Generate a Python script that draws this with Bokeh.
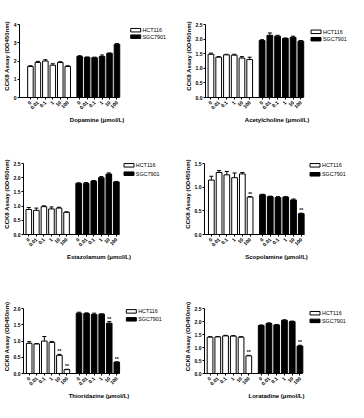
import math
from bokeh.plotting import figure
from bokeh.models import (ColumnDataSource, FixedTicker, Whisker, TeeHead,
                          NumeralTickFormatter, Range1d)
from bokeh.layouts import row, column
from bokeh.embed import file_html
from bokeh.resources import INLINE
from bokeh.core.properties import value

# ---------------- data ----------------
concentrations = ["0", "0.01", "0.1", "1", "10", "100"]
series_names = ["HCT116", "SGC7901"]
drugs = ["Dopamine", "Acetylcholine", "Estazolamum", "Scopolamine", "Thioridazine", "Loratadine"]

dopamine_hct = [1.70, 1.92, 2.00, 1.77, 1.92, 1.70]
dopamine_hct_err = [0.04, 0.06, 0.07, 0.08, 0.04, 0.04]
dopamine_sgc = [2.25, 2.20, 2.18, 2.25, 2.42, 2.92]
dopamine_sgc_err = [0.04, 0.02, 0.03, 0.08, 0.02, 0.03]

acetylcholine_hct = [1.48, 1.38, 1.46, 1.45, 1.35, 1.30]
acetylcholine_hct_err = [0.04, 0.02, 0.02, 0.03, 0.05, 0.08]
acetylcholine_sgc = [1.95, 2.13, 2.10, 2.02, 2.06, 1.93]
acetylcholine_sgc_err = [0.03, 0.08, 0.03, 0.02, 0.04, 0.02]

estazolamum_hct = [0.88, 0.85, 0.98, 0.90, 0.93, 0.78]
estazolamum_hct_err = [0.07, 0.08, 0.03, 0.07, 0.03, 0.02]
estazolamum_sgc = [1.80, 1.80, 1.88, 2.00, 2.13, 1.85]
estazolamum_sgc_err = [0.02, 0.03, 0.02, 0.04, 0.04, 0.02]

scopolamine_hct = [1.15, 1.31, 1.26, 1.20, 1.28, 0.79]
scopolamine_hct_err = [0.08, 0.04, 0.07, 0.10, 0.03, 0.01]
scopolamine_sgc = [0.84, 0.80, 0.78, 0.79, 0.73, 0.44]
scopolamine_sgc_err = [0.01, 0.01, 0.02, 0.01, 0.02, 0.01]

thioridazine_hct = [0.93, 0.91, 1.00, 0.96, 0.56, 0.12]
thioridazine_hct_err = [0.05, 0.01, 0.14, 0.03, 0.03, 0.01]
thioridazine_sgc = [1.86, 1.85, 1.82, 1.83, 1.55, 0.35]
thioridazine_sgc_err = [0.03, 0.02, 0.04, 0.01, 0.05, 0.01]

loratadine_hct = [1.40, 1.41, 1.45, 1.44, 1.40, 0.68]
loratadine_hct_err = [0.02, 0.01, 0.02, 0.02, 0.02, 0.02]
loratadine_sgc = [1.85, 1.93, 1.87, 2.05, 2.00, 1.06]
loratadine_sgc_err = [0.02, 0.02, 0.02, 0.02, 0.02, 0.03]

# significance (**) markers: indices of concentrations
stars_hct = [[], [], [], [5], [4, 5], [5]]
stars_sgc = [[], [], [], [5], [4, 5], [5]]

y_ticks = [[0, 1, 2, 3, 4],
           [0, 0.5, 1.0, 1.5, 2.0, 2.5],
           [0, 0.5, 1.0, 1.5, 2.0, 2.5],
           [0, 0.5, 1.0, 1.5],
           [0, 0.5, 1.0, 1.5, 2.0],
           [0, 0.5, 1.0, 1.5, 2.0, 2.5]]
y_formats = ["0", "0.0", "0.0", "0.0", "0.0", "0.0"]

hct_values = [dopamine_hct, acetylcholine_hct, estazolamum_hct, scopolamine_hct, thioridazine_hct, loratadine_hct]
hct_errors = [dopamine_hct_err, acetylcholine_hct_err, estazolamum_hct_err, scopolamine_hct_err, thioridazine_hct_err, loratadine_hct_err]
sgc_values = [dopamine_sgc, acetylcholine_sgc, estazolamum_sgc, scopolamine_sgc, thioridazine_sgc, loratadine_sgc]
sgc_errors = [dopamine_sgc_err, acetylcholine_sgc_err, estazolamum_sgc_err, scopolamine_sgc_err, thioridazine_sgc_err, loratadine_sgc_err]

# ---------------- layout / style ----------------
FONT = "Liberation Sans"
PX = 1.55        # pixels per x unit
SLOT = 5         # units between bars
GROUP2 = 33      # start of second group (units)
BAR_W = 3.7
W = 174
EXTRA = 10       # frame extends this many px above the axis top
ROW_H = [132, 140, 130]
ROW_TOP = [24, 31, 37]     # axis top, px from figure top
ROW_FH = [73, 71, 71]      # axis height, px
LEFT = [13, 31, 19, 30, 19, 30]
FIRST_OFF = [11.35, 5.45, 5.45, 6.85, 5.85, 5.55]
LEG_X = [115.7, 105.5, 103.3, 105.5, 105.7, 105.5]   # swatch left, px from axis
LEG_C = [5.7, 7.3, 1.8, 1.8, 3.0, 5.0]               # first row centre, px below axis top
LEG_PITCH = [6.5, 7.4, 8.4, 9.0, 8.7, 8.4]


def make_panel(k):
    r = k // 2
    H, top, fh = ROW_H[r], ROW_TOP[r], ROW_FH[r]
    bottom = H - top - fh
    left = LEFT[k]
    frame_w = W - left
    x0 = -FIRST_OFF[k] / PX
    ymax = y_ticks[k][-1]
    ypx = ymax / fh   # data units per px

    p = figure(width=W, height=H, output_backend="svg", toolbar_location=None,
               x_range=Range1d(x0, x0 + frame_w / PX),
               y_range=Range1d(0, ymax + EXTRA * ypx),
               min_border_left=left, min_border_right=0, min_border_top=top - EXTRA,
               min_border_bottom=bottom, outline_line_color=None,
               background_fill_color="white", border_fill_color="white")
    p.xgrid.visible = False
    p.ygrid.visible = False

    pos_h = [i * SLOT for i in range(6)]
    pos_s = [GROUP2 + i * SLOT for i in range(6)]

    hv, he = hct_values[k], hct_errors[k]
    sv, se = sgc_values[k], sgc_errors[k]
    src_h = ColumnDataSource(dict(x=pos_h, top=hv, upper=[v + e for v, e in zip(hv, he)]))
    src_s = ColumnDataSource(dict(x=pos_s, top=sv, upper=[v + e for v, e in zip(sv, se)]))

    p.vbar(x="x", top="top", width=BAR_W, source=src_h, fill_color="white",
           line_color="black", line_width=1)
    p.vbar(x="x", top="top", width=BAR_W, source=src_s, fill_color="black",
           line_color="black", line_width=1)
    for src in (src_h, src_s):
        p.add_layout(Whisker(source=src, base="x", upper="upper", lower="top",
                             line_color="black", line_width=1,
                             upper_head=TeeHead(size=4, line_color="black", line_width=1),
                             lower_head=None))

    sx, sy = [], []
    for i in stars_hct[k]:
        sx.append(pos_h[i]); sy.append(hv[i] + he[i])
    for i in stars_sgc[k]:
        sx.append(pos_s[i]); sy.append(sv[i] + se[i])
    if sx:
        p.text(x=sx, y=sy, text=["**"] * len(sx), text_align="center",
               text_baseline="bottom", text_font=value(FONT), text_font_size="5px",
               text_font_style="bold", text_color="black", y_offset=0)

    # legend (swatches + labels), placed in pixel layout converted to data space
    lx = x0 + (LEG_X[k] + 5) / PX
    ltx = x0 + (LEG_X[k] + 12) / PX
    ly = [ymax - LEG_C[k] * ypx, ymax - (LEG_C[k] + LEG_PITCH[k]) * ypx]
    p.rect(x=[lx, lx], y=ly, width=10, height=3.5, width_units="screen",
           height_units="screen", fill_color=["white", "black"], line_color="black",
           line_width=1)
    p.text(x=[ltx, ltx], y=ly, text=series_names, text_align="left",
           text_baseline="middle", text_font=value(FONT), text_font_size="5.4px",
           text_color="black")

    xa = p.xaxis[0]
    xa.ticker = FixedTicker(ticks=pos_h + pos_s, minor_ticks=[])
    xa.major_label_overrides = {t: c for t, c in zip(pos_h + pos_s, concentrations * 2)}
    xa.major_label_orientation = math.pi / 4
    xa.bounds = (x0, pos_s[-1] + BAR_W / 2)
    xa.axis_label = f"{drugs[k]} (μmol/L)"
    xa.major_label_standoff = 2
    xa.axis_label_standoff = 3

    ya = p.yaxis[0]
    ya.ticker = FixedTicker(ticks=y_ticks[k], minor_ticks=[])
    ya.formatter = NumeralTickFormatter(format=y_formats[k])
    ya.bounds = (0, ymax)
    ya.axis_label = "CCK8 Assay (OD450nm)"
    ya.major_label_standoff = 1
    ya.axis_label_standoff = 1

    for ax in (xa, ya):
        ax.axis_line_color = "black"
        ax.axis_line_width = 1
        ax.major_tick_out = 2
        ax.major_tick_in = 0
        ax.minor_tick_out = 0
        ax.minor_tick_in = 0
        ax.major_tick_line_color = "black"
        ax.major_label_text_font = FONT
        ax.major_label_text_font_size = "5px"
        ax.major_label_text_font_style = "bold"
        ax.major_label_text_color = "black"
        ax.axis_label_text_font = FONT
        ax.axis_label_text_font_size = "6px"
        ax.axis_label_text_font_style = "bold"
        ax.axis_label_text_color = "black"
    return p


panels = [make_panel(k) for k in range(6)]
layout = column(row(panels[0], panels[1]), row(panels[2], panels[3]), row(panels[4], panels[5]))

open("out.html", "w").write(file_html(layout, INLINE))
